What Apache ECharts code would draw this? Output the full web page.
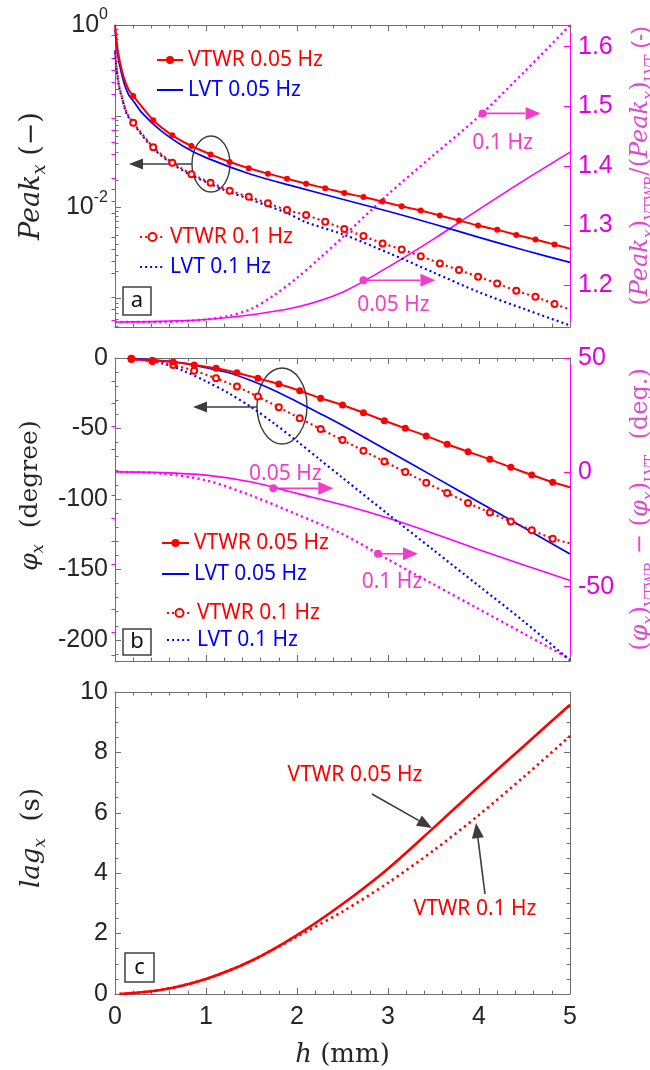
<!DOCTYPE html>
<html>
<head>
<meta charset="utf-8">
<script src="https://cdn.jsdelivr.net/npm/echarts@6.0.0/dist/echarts.min.js"></script>
<style>
  html, body { margin: 0; padding: 0; background: #fff; }
  #chart { width: 650px; height: 1070px; }
</style>
</head>
<body>
<div id="chart"></div>
<script>
// ---------- panel a : Peak_x (log) and ratio VTWR/LVT ----------
const hPeakV05 = [0, 0.01, 0.03, 0.06, 0.1, 0.15, 0.2, 0.42, 0.63, 0.84, 1.05, 1.26, 1.47, 1.68, 1.89, 2.1, 2.31, 2.52, 2.73, 2.94, 3.15, 3.36, 3.57, 3.78, 3.99, 4.2, 4.41, 4.62, 4.83, 5.0]
const peakV05 = [1.0, 0.8, 0.53, 0.37, 0.26, 0.195, 0.167, 0.0904, 0.0618, 0.0472, 0.0382, 0.0315, 0.0270, 0.0235, 0.0207, 0.0182, 0.0163, 0.0144, 0.0130, 0.0116, 0.0103, 0.00927, 0.00817, 0.00720, 0.00634, 0.00569, 0.00501, 0.00445, 0.00392, 0.00354]
const hPeakL05 = [0, 0.01, 0.03, 0.06, 0.1, 0.15, 0.2, 0.3, 0.5, 0.75, 1.0, 1.5, 2.0, 2.5, 3.0, 3.5, 4.0, 4.5, 5.0]
const peakL05 = [0.9, 0.71, 0.47, 0.33, 0.23, 0.172, 0.148, 0.108, 0.070, 0.047, 0.0352, 0.0230, 0.0167, 0.0123, 0.0091, 0.0066, 0.0047, 0.0034, 0.0025]
const hPeakV10 = [0, 0.02, 0.045, 0.075, 0.13, 0.2, 0.42, 0.63, 0.84, 1.05, 1.26, 1.47, 1.68, 1.89, 2.1, 2.31, 2.52, 2.73, 2.94, 3.15, 3.36, 3.57, 3.78, 3.99, 4.2, 4.41, 4.62, 4.83, 5.0]
const peakV10 = [0.53, 0.32, 0.215, 0.164, 0.108, 0.0849, 0.0456, 0.0309, 0.0232, 0.0187, 0.0153, 0.0131, 0.0111, 0.00936, 0.00826, 0.00697, 0.00580, 0.00486, 0.00404, 0.00347, 0.00293, 0.00244, 0.00206, 0.00174, 0.00147, 0.00122, 0.00105, 0.000873, 0.000763]
const hPeakL10 = [0, 0.02, 0.045, 0.075, 0.13, 0.2, 0.42, 0.63, 0.84, 1.05, 1.26, 1.47, 1.68, 1.89, 2.1, 2.5, 3.0, 3.5, 4.0, 4.5, 5.0]
const peakL10 = [0.5, 0.31, 0.21, 0.16, 0.105, 0.083, 0.0445, 0.030, 0.0226, 0.0181, 0.0147, 0.0125, 0.0104, 0.0087, 0.0069, 0.0051, 0.0032, 0.00194, 0.00118, 0.00077, 0.00051]
const hRatio05 = [0, 0.5, 1.0, 1.5, 2.0, 2.5, 3.0, 3.5, 4.0, 4.5, 5.0]
const ratio05 = [1.138, 1.139, 1.142, 1.150, 1.163, 1.188, 1.230, 1.277, 1.327, 1.376, 1.423]
const hRatio10 = [0, 0.5, 1.0, 1.25, 1.5, 1.75, 2.0, 2.25, 2.5, 3.0, 3.5, 4.0, 4.5, 5.0]
const ratio10 = [1.138, 1.138, 1.142, 1.148, 1.160, 1.183, 1.212, 1.245, 1.280, 1.352, 1.418, 1.483, 1.558, 1.636]

// ---------- panel b : phase phi_x and difference ----------
const hPhiV = [0.18, 0.41, 0.64, 0.87, 1.11, 1.34, 1.57, 1.80, 2.03, 2.26, 2.50, 2.73, 2.96, 3.19, 3.42, 3.65, 3.88, 4.12, 4.35, 4.58, 4.81, 5.0]
const phiV05 = [-0.9, -1.8, -2.9, -4.9, -7.3, -10.4, -14.4, -18.4, -23.2, -28.6, -33.3, -38.8, -44.5, -49.9, -55.3, -61.2, -66.5, -71.9, -77.6, -83.0, -88.2, -91.7]
const phiV10 = [-0.6, -2.1, -5.0, -9.0, -14.4, -20.3, -27.4, -35.0, -42.8, -50.4, -58.2, -65.8, -73.4, -80.9, -88.5, -95.8, -102.9, -109.6, -116.0, -122.2, -128.2, -131.6]
const hPhiL = [0.18, 0.5, 0.75, 1.0, 1.25, 1.5, 1.75, 2.0, 2.25, 2.5, 3.0, 3.5, 4.0, 4.5, 5.0]
const phiL05 = [-0.5, -1.8, -3.6, -6.9, -10.5, -16.2, -23.0, -31.0, -39.3, -47.8, -65.8, -84.0, -102.3, -120.6, -139.0]
const phiL10 = [-0.3, -3.5, -9.0, -16.5, -25.0, -35.0, -46.5, -59.0, -72.0, -85.0, -110.8, -136.3, -161.8, -187.3, -214.5]
const hDphi = [0, 0.5, 1.0, 1.5, 2.0, 2.5, 3.0, 3.5, 4.0, 4.5, 5.0]
const dphi05 = [0.2, -0.1, -1.2, -4.2, -9.2, -14.2, -20.0, -26.7, -33.8, -40.6, -47.3]
const dphi10 = [0.2, -0.5, -3.5, -10.2, -18.4, -27.0, -38.1, -49.0, -59.8, -70.7, -81.6]

// ---------- panel c : lag_x ----------
const hLag = [0.05, 0.5, 1.0, 1.5, 2.0, 2.5, 3.0, 3.5, 4.0, 4.5, 5.0]
const lag05 = [0, 0.13, 0.5, 1.1, 1.95, 2.98, 4.15, 5.5, 6.88, 8.23, 9.58]
const lag10 = [0, 0.13, 0.5, 1.1, 1.9, 2.73, 3.68, 4.75, 5.93, 7.21, 8.54]

// annotation anchors (h, value on right axis)
const anchorRatio05 = [2.73, 1.208]
const anchorRatio10 = [4.04, 1.488]
const anchorDphi05 = [1.74, -7.0]
const anchorDphi10 = [2.89, -35.6]

// ---------- ticks ----------
const peakLabels = [1, 0.01]
const peakMajor = [1, 0.1, 0.01, 0.001]
const peakMinor = []
;[0.1, 0.01, 0.001, 0.0001].forEach(d => { for (let k = 2; k <= 9; k++) { if (k * d >= 0.00049) peakMinor.push(k * d) } })
const ratioMajor = [1.2, 1.3, 1.4, 1.5, 1.6]
const ratioMinor = [1.14, 1.16, 1.18, 1.22, 1.24, 1.26, 1.28, 1.32, 1.34, 1.36, 1.38, 1.42, 1.44, 1.46, 1.48, 1.52, 1.54, 1.56, 1.58, 1.62]
const phiMajor = [0, -50, -100, -150, -200]
const phiMinor = [-10, -20, -30, -40, -60, -70, -80, -90, -110, -120, -130, -140, -160, -170, -180, -190, -210]
const dphiMajor = [50, 0, -50]
const dphiMinor = [40, 30, 20, 10, -10, -20, -30, -40, -60, -70, -80]

const RED = '#ff0000'
const BLUE = '#0000ff'
const MAG = '#ff00ff'
const MAG_LABEL = '#e000e0'
const MAG_NAME = '#dc4bd0'
const PINK = '#f43ccb'
const GRAY = '#6e6e6e'
const INK = '#262626'
const DARK = '#3c3c3c'
const SANS = 'Liberation Sans'
const TXT = 'Noto Sans'
const SERIF = 'DejaVu Serif'

function pts (hs, vs) {
  return hs.map((h, i) => [h, vs[i]])
}
// points from index `from` to `to` carry a marker, others none
function marked (hs, vs, from, to) {
  return hs.map((h, i) => (i >= from && i <= to) ? [h, vs[i]] : { value: [h, vs[i]], symbol: 'none' })
}

function nameRich (color, size) {
  return {
    i: { fontFamily: SERIF, fontStyle: 'italic', fontSize: size, lineHeight: 34, color: color },
    s: { fontFamily: SERIF, fontStyle: 'italic', fontSize: Math.round(size * 0.65), lineHeight: 34, verticalAlign: 'bottom', color: color },
    sub: { fontFamily: SERIF, fontSize: Math.round(size * 0.6), lineHeight: 34, verticalAlign: 'bottom', color: color },
    n: { fontFamily: SERIF, fontSize: size, lineHeight: 34, color: color },
    t: { fontFamily: SANS, fontSize: size - 2, lineHeight: 34, color: color }
  }
}

function xAx (grid, pos, showLabel) {
  const ax = {
    type: 'value', gridIndex: grid, position: pos, min: 0, max: 5, interval: 1,
    axisLine: { show: true, onZero: false, lineStyle: { color: GRAY, width: 1 } },
    axisTick: { show: true, inside: true, length: 6, lineStyle: { color: GRAY } },
    minorTick: { show: true, splitNumber: 5, length: 3.5, lineStyle: { color: GRAY } },
    axisLabel: { show: showLabel, margin: 11, fontSize: 25, fontFamily: SANS, color: INK },
    splitLine: { show: false },
    minorSplitLine: { show: false }
  }
  if (showLabel) {
    ax.name = '{i|h}{n| (mm)}'
    ax.nameLocation = 'middle'
    ax.nameGap = 44
    ax.nameTextStyle = { rich: nameRich(INK, 26) }
  }
  return ax
}

function yMinor (grid, pos, type, min, max, ticks, color) {
  return {
    type: type, gridIndex: grid, position: pos, min: min, max: max,
    axisLine: { show: false },
    axisTick: { show: true, inside: true, length: 3.5, customValues: ticks, lineStyle: { color: color } },
    axisLabel: { show: false },
    splitLine: { show: false }
  }
}

const PEAK_MIN = 0.00049

const yAxes = [
  // 0 panel a left (log)
  {
    type: 'log', gridIndex: 0, position: 'left', min: PEAK_MIN, max: 1,
    axisLine: { show: true, onZero: false, lineStyle: { color: GRAY } },
    axisTick: { show: true, inside: true, length: 6, customValues: peakMajor, lineStyle: { color: GRAY } },
    axisLabel: {
      customValues: peakLabels, margin: 7, fontSize: 25, fontFamily: SANS, color: INK, lineHeight: 36,
      formatter: v => '10{sup|' + Math.round(Math.log10(v)) + '}',
      rich: { sup: { fontSize: 16, fontFamily: SANS, color: INK, lineHeight: 36, verticalAlign: 'top' } }
    },
    splitLine: { show: false },
    name: '{i|Peak}{s|x}{n| (−)}', nameLocation: 'middle', nameGap: 66,
    nameTextStyle: { rich: nameRich(INK, 27) }
  },
  // 1 panel a left minor
  yMinor(0, 'left', 'log', PEAK_MIN, 1, peakMinor, GRAY),
  // 2 panel a right (ratio)
  {
    type: 'value', gridIndex: 0, position: 'right', min: 1.1295, max: 1.6364,
    axisLine: { show: true, onZero: false, lineStyle: { color: MAG } },
    axisTick: { show: true, inside: true, length: 6, customValues: ratioMajor, lineStyle: { color: MAG } },
    axisLabel: { customValues: ratioMajor, margin: 8, fontSize: 25, fontFamily: SANS, color: MAG_LABEL, formatter: v => v.toFixed(1) },
    splitLine: { show: false },
    name: '{n|(}{i|Peak}{s|x}{n|)}{sub|VTWR}{n|/(}{i|Peak}{s|x}{n|)}{sub|LVT}{t| (-)}',
    nameLocation: 'middle', nameGap: 54,
    nameTextStyle: { rich: nameRich(MAG_NAME, 24), padding: [0, 0, 0, 20] }
  },
  // 3 panel a right minor
  yMinor(0, 'right', 'value', 1.1295, 1.6364, ratioMinor, MAG),
  // 4 panel b left
  {
    type: 'value', gridIndex: 1, position: 'left', min: -215, max: 0,
    axisLine: { show: true, onZero: false, lineStyle: { color: GRAY } },
    axisTick: { show: true, inside: true, length: 6, customValues: phiMajor, lineStyle: { color: GRAY } },
    axisLabel: { customValues: phiMajor, margin: 7, fontSize: 25, fontFamily: SANS, color: INK },
    splitLine: { show: false },
    name: '{i|φ}{s|x}{n|  (degree)}', nameLocation: 'middle', nameGap: 64,
    nameTextStyle: { rich: nameRich(INK, 25), padding: [0, 0, 0, 28] }
  },
  // 5 panel b left minor
  yMinor(1, 'left', 'value', -215, 0, phiMinor, GRAY),
  // 6 panel b right
  {
    type: 'value', gridIndex: 1, position: 'right', min: -82.5, max: 50,
    axisLine: { show: true, onZero: false, lineStyle: { color: MAG } },
    axisTick: { show: true, inside: true, length: 6, customValues: dphiMajor, lineStyle: { color: MAG } },
    axisLabel: { customValues: dphiMajor, margin: 8, fontSize: 25, fontFamily: SANS, color: MAG_LABEL },
    splitLine: { show: false },
    name: '{n|(}{i|φ}{s|x}{n|)}{sub|VTWR}{n| − (}{i|φ}{s|x}{n|)}{sub|LVT}{n|  (deg.)}',
    nameLocation: 'middle', nameGap: 54,
    nameTextStyle: { rich: nameRich(MAG_NAME, 24) }
  },
  // 7 panel b right minor
  yMinor(1, 'right', 'value', -82.5, 50, dphiMinor, MAG),
  // 8 panel c left
  {
    type: 'value', gridIndex: 2, position: 'left', min: 0, max: 10, interval: 2,
    axisLine: { show: true, onZero: false, lineStyle: { color: GRAY } },
    axisTick: { show: true, inside: true, length: 6, lineStyle: { color: GRAY } },
    minorTick: { show: true, splitNumber: 4, length: 3.5, lineStyle: { color: GRAY } },
    axisLabel: { margin: 7, fontSize: 25, fontFamily: SANS, color: INK },
    splitLine: { show: false },
    name: '{i|lag}{s|x}{n|  (s)}', nameLocation: 'middle', nameGap: 66,
    nameTextStyle: { rich: nameRich(INK, 26), padding: [0, 0, 0, 10] }
  },
  // 9 panel c right mirror
  {
    type: 'value', gridIndex: 2, position: 'right', min: 0, max: 10, interval: 2,
    axisLine: { show: true, onZero: false, lineStyle: { color: GRAY } },
    axisTick: { show: true, inside: true, length: 6, lineStyle: { color: GRAY } },
    minorTick: { show: true, splitNumber: 4, length: 3.5, lineStyle: { color: GRAY } },
    axisLabel: { show: false },
    splitLine: { show: false }
  }
]

function lineSeries (name, xi, yi, data, color, o) {
  return Object.assign({
    name: name, type: 'line', xAxisIndex: xi, yAxisIndex: yi, data: data,
    color: color, symbol: 'none', showAllSymbol: true,
    lineStyle: { color: color, width: 1.8 },
    itemStyle: { color: color },
    emphasis: { disabled: true }
  }, o)
}

const dotted = (color, w) => ({ color: color, width: w, type: [w * 0.9, w * 1.4] })

const series = [
  // panel a
  lineSeries('ratio 0.05', 0, 2, pts(hRatio05, ratio05), MAG, { smooth: 0.3, lineStyle: { color: MAG, width: 1.6 } }),
  lineSeries('ratio 0.1', 0, 2, pts(hRatio10, ratio10), MAG, { smooth: 0.3, lineStyle: dotted(MAG, 2.4) }),
  lineSeries('LVT 0.05 Hz', 0, 0, pts(hPeakL05, peakL05), BLUE, { smooth: 0.3, lineStyle: { color: BLUE, width: 1.7 } }),
  lineSeries('LVT 0.1 Hz', 0, 0, pts(hPeakL10, peakL10), BLUE, { smooth: 0.3, lineStyle: dotted(BLUE, 2.2) }),
  lineSeries('VTWR 0.1 Hz', 0, 0, marked(hPeakV10, peakV10, 5, 27), RED, {
    symbol: 'emptyCircle', symbolSize: 6, smooth: 0.2,
    lineStyle: dotted(RED, 2.2), itemStyle: { color: RED, borderWidth: 1.2 }
  }),
  lineSeries('VTWR 0.05 Hz', 0, 0, marked(hPeakV05, peakV05, 6, 28), RED, {
    symbol: 'circle', symbolSize: 6, smooth: 0.2, lineStyle: { color: RED, width: 2 }
  }),
  // panel b
  lineSeries('dphi 0.05', 2, 6, pts(hDphi, dphi05), MAG, { smooth: 0.3, lineStyle: { color: MAG, width: 1.6 } }),
  lineSeries('dphi 0.1', 2, 6, pts(hDphi, dphi10), MAG, { smooth: 0.3, lineStyle: dotted(MAG, 2.4) }),
  lineSeries('LVT 0.05 Hz', 2, 4, pts(hPhiL, phiL05), BLUE, { smooth: 0.3, lineStyle: { color: BLUE, width: 1.7 } }),
  lineSeries('LVT 0.1 Hz', 2, 4, pts(hPhiL, phiL10), BLUE, { smooth: 0.3, lineStyle: dotted(BLUE, 2.2) }),
  lineSeries('VTWR 0.1 Hz', 2, 4, marked(hPhiV, phiV10, 0, 20), RED, {
    symbol: 'emptyCircle', symbolSize: 6, smooth: 0.2,
    lineStyle: dotted(RED, 2.2), itemStyle: { color: RED, borderWidth: 1.2 }
  }),
  lineSeries('VTWR 0.05 Hz', 2, 4, marked(hPhiV, phiV05, 0, 20), RED, {
    symbol: 'circle', symbolSize: 7, smooth: 0.2, lineStyle: { color: RED, width: 2 }
  }),
  // panel c
  lineSeries('lag 0.1', 4, 8, pts(hLag, lag10), RED, { smooth: 0.3, lineStyle: dotted(RED, 2.6) }),
  lineSeries('lag 0.05', 4, 8, pts(hLag, lag05), RED, { smooth: 0.3, lineStyle: { color: RED, width: 2.6 } })
]

function legendBlock (left, top, gap, width, names) {
  return {
    left: left, top: top, orient: 'vertical', padding: 0, itemGap: gap,
    itemWidth: width, itemHeight: 10, selectedMode: false,
    textStyle: { fontFamily: TXT, fontSize: 21, lineHeight: 24 },
    data: names.map(n => {
      const vtwr = n.indexOf('VTWR') === 0
      const item = { name: n, textStyle: { color: vtwr ? RED : BLUE } }
      // LVT lines carry no marker
      if (!vtwr) item.itemStyle = { opacity: 0 }
      return item
    })
  }
}

const option = {
  animation: false,
  backgroundColor: '#ffffff',
  grid: [
    { left: 115, right: 80, top: 25, height: 302, outerBoundsMode: 'none' },
    { left: 115, right: 80, top: 358, height: 303, outerBoundsMode: 'none' },
    { left: 115, right: 80, top: 692, height: 302, outerBoundsMode: 'none' }
  ],
  xAxis: [xAx(0, 'bottom', false), xAx(0, 'top', false), xAx(1, 'bottom', false), xAx(1, 'top', false), xAx(2, 'bottom', true), xAx(2, 'top', false)],
  yAxis: yAxes,
  legend: [
    legendBlock(156, 48, 6, 26, ['VTWR 0.05 Hz', 'LVT 0.05 Hz']),
    legendBlock(139, 225, 6, 25, ['VTWR 0.1 Hz', 'LVT 0.1 Hz']),
    legendBlock(161, 531, 7, 27, ['VTWR 0.05 Hz', 'LVT 0.05 Hz']),
    legendBlock(166, 601, 3, 25, ['VTWR 0.1 Hz', 'LVT 0.1 Hz'])
  ],
  series: series
}

const chart = echarts.init(document.getElementById('chart'), null, { renderer: 'canvas' })
chart.setOption(option)

// ---------- annotations ----------
function arrow (x1, y1, x2, y2, color, width, headLen, headW) {
  const a = Math.atan2(y2 - y1, x2 - x1)
  const bx = x2 - headLen * Math.cos(a)
  const by = y2 - headLen * Math.sin(a)
  const px = -Math.sin(a) * headW / 2
  const py = Math.cos(a) * headW / 2
  return [
    { type: 'line', shape: { x1: x1, y1: y1, x2: bx, y2: by }, style: { stroke: color, lineWidth: width } },
    { type: 'polygon', shape: { points: [[x2, y2], [bx + px, by + py], [bx - px, by - py]] }, style: { fill: color } }
  ]
}
function label (x, y, text, color) {
  return { type: 'text', x: x, y: y, style: { text: text, fontFamily: TXT, fontSize: 21, fill: color, align: 'center', verticalAlign: 'middle' } }
}
function panelTag (x, y, w, h, text) {
  return [
    { type: 'rect', shape: { x: x, y: y, width: w, height: h }, style: { fill: '#fff', stroke: '#404040', lineWidth: 1.5 }, z: 10 },
    { type: 'text', x: x + w / 2, y: y + h / 2, style: { text: text, fontFamily: TXT, fontSize: 22, fill: '#111', align: 'center', verticalAlign: 'middle' }, z: 11 }
  ]
}
// dot on a curve, arrow to the right, text nearby
function freqNote (seriesIndex, anchor, len, text, dx, dy) {
  const p = chart.convertToPixel({ seriesIndex: seriesIndex }, anchor)
  return [
    { type: 'circle', shape: { cx: p[0], cy: p[1], r: 4 }, style: { fill: PINK }, z: 10 }
  ].concat(arrow(p[0], p[1], p[0] + len, p[1], PINK, 1.6, 15, 13)).concat([label(p[0] + dx, p[1] + dy, text, PINK)])
}

let g = []
// panel a
g.push({ type: 'ellipse', shape: { cx: 211, cy: 164, rx: 19, ry: 28 }, style: { fill: 'none', stroke: DARK, lineWidth: 1.4 } })
g = g.concat(arrow(192, 164, 129, 164, DARK, 1.6, 14, 11))
g = g.concat(freqNote(0, anchorRatio05, 72, '0.05 Hz', 30, 25))
g = g.concat(freqNote(1, anchorRatio10, 58, '0.1 Hz', 20, 30))
g = g.concat(panelTag(123, 287, 28, 28, 'a'))
// panel b
g.push({ type: 'ellipse', shape: { cx: 282, cy: 406, rx: 25, ry: 38 }, style: { fill: 'none', stroke: DARK, lineWidth: 1.4 } })
g = g.concat(arrow(257, 407, 193, 407, DARK, 1.6, 14, 11))
g = g.concat(freqNote(6, anchorDphi05, 60, '0.05 Hz', 12, -14))
g = g.concat(freqNote(7, anchorDphi10, 40, '0.1 Hz', 14, 28))
g = g.concat(panelTag(123, 629, 28, 26, 'b'))
// panel c
g.push(label(355, 775, 'VTWR 0.05 Hz', RED))
g = g.concat(arrow(372, 794, 432, 828, DARK, 1.6, 15, 12))
g.push(label(475, 909, 'VTWR 0.1 Hz', RED))
g = g.concat(arrow(485, 894, 476, 823, DARK, 1.6, 15, 12))
g = g.concat(panelTag(125, 953, 29, 29, 'c'))

chart.setOption({ graphic: g })
</script>
</body>
</html>
